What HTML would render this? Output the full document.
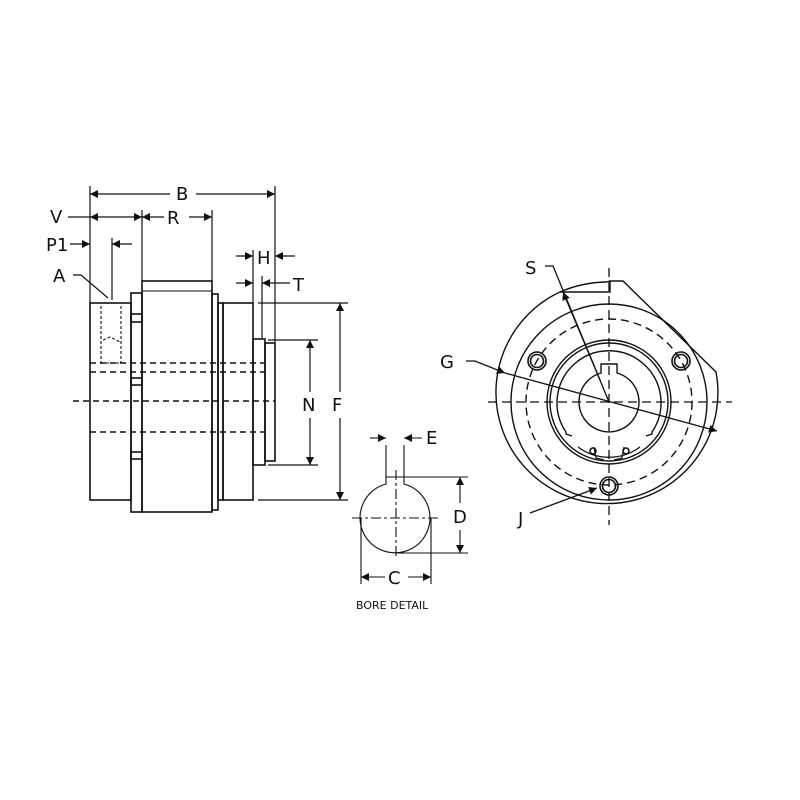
<!DOCTYPE html>
<html><head><style>body{margin:0;background:#fff}svg{display:block}text{font-family:"DejaVu Sans","Liberation Sans",sans-serif;fill:#111}</style></head>
<body>
<svg width="800" height="800" viewBox="0 0 800 800" xmlns="http://www.w3.org/2000/svg">
<defs>
<marker id="a" viewBox="0 0 10 10" refX="10" refY="5" markerWidth="10" markerHeight="8" orient="auto-start-reverse" markerUnits="userSpaceOnUse"><path d="M0,0L10,5L0,10z" fill="#111"/></marker>
</defs>
<g fill="none" stroke="#111" stroke-width="1.6">
<rect x="90" y="303" width="41" height="197"/>
<rect x="131" y="293" width="11" height="219"/>
<rect x="142" y="281" width="70" height="231"/>
<rect x="212" y="294" width="6" height="216"/>
<rect x="218" y="303" width="5" height="197"/>
<rect x="223" y="303" width="30" height="197"/>
<rect x="253" y="339" width="12" height="126"/>
<rect x="265" y="343" width="10" height="118"/>
<rect x="131" y="314" width="11" height="8"/>
<rect x="131" y="378" width="11" height="7"/>
<rect x="131" y="452" width="11" height="7"/>
<line x1="142" y1="291" x2="212" y2="291" stroke-width="1"/>
<g stroke-dasharray="6,4" stroke-width="1.4">
<line x1="90" y1="363" x2="265" y2="363"/>
<line x1="90" y1="372" x2="265" y2="372"/>
<line x1="73" y1="401" x2="275" y2="401"/>
<line x1="90" y1="432" x2="265" y2="432"/>
</g>
<g stroke-dasharray="3,2" stroke-width="1.1">
<line x1="101" y1="306" x2="101" y2="363"/>
<line x1="121" y1="306" x2="121" y2="363"/>
<line x1="101" y1="363" x2="121" y2="363"/>
<path d="M103,340 L110,337 L120,342"/>
</g>
<g stroke-width="1.2">
<line x1="90" y1="186" x2="90" y2="303"/>
<line x1="275" y1="186" x2="275" y2="342"/>
<line x1="142" y1="210" x2="142" y2="281"/>
<line x1="212" y1="210" x2="212" y2="281"/>
<line x1="112" y1="238" x2="112" y2="300"/>
<line x1="253" y1="250" x2="253" y2="303"/>
<line x1="262" y1="276" x2="262" y2="338"/>
<line x1="90" y1="194" x2="170" y2="194" marker-start="url(#a)"/>
<line x1="196" y1="194" x2="275" y2="194" marker-end="url(#a)"/>
<line x1="68" y1="217" x2="90" y2="217"/>
<line x1="90" y1="217" x2="142" y2="217" marker-start="url(#a)" marker-end="url(#a)"/>
<line x1="142" y1="217" x2="164" y2="217" marker-start="url(#a)"/>
<line x1="189" y1="217" x2="212" y2="217" marker-end="url(#a)"/>
<line x1="70" y1="244" x2="90" y2="244" marker-end="url(#a)"/>
<line x1="132" y1="244" x2="112" y2="244" marker-end="url(#a)"/>
<polyline points="73,275 81,275 108,298"/>
<line x1="236" y1="256" x2="253" y2="256" marker-end="url(#a)"/>
<line x1="295" y1="256" x2="275" y2="256" marker-end="url(#a)"/>
<line x1="236" y1="283" x2="253" y2="283" marker-end="url(#a)"/>
<line x1="290" y1="283" x2="262" y2="283" marker-end="url(#a)"/>
<line x1="268" y1="340" x2="318" y2="340"/>
<line x1="268" y1="465" x2="318" y2="465"/>
<line x1="310" y1="392" x2="310" y2="340" marker-end="url(#a)"/>
<line x1="310" y1="418" x2="310" y2="465" marker-end="url(#a)"/>
<line x1="258" y1="303" x2="348" y2="303"/>
<line x1="258" y1="500" x2="348" y2="500"/>
<line x1="340" y1="392" x2="340" y2="303" marker-end="url(#a)"/>
<line x1="340" y1="418" x2="340" y2="500" marker-end="url(#a)"/>
</g>
<path d="M386,477 L386,484 A35,35 0 1 0 404,484 L404,477 Z" stroke-width="1.1"/>
<g stroke-width="1.1">
<line x1="352" y1="518" x2="440" y2="518" stroke-dasharray="10,3,3,3"/>
<line x1="396" y1="470" x2="396" y2="558" stroke-dasharray="10,3,3,3"/>
<line x1="386" y1="445" x2="386" y2="477"/>
<line x1="404" y1="445" x2="404" y2="477"/>
<line x1="370" y1="438" x2="386" y2="438" marker-end="url(#a)"/>
<line x1="422" y1="438" x2="404" y2="438" marker-end="url(#a)"/>
<line x1="404" y1="477" x2="468" y2="477"/>
<line x1="396" y1="553" x2="468" y2="553"/>
<line x1="460" y1="503" x2="460" y2="477" marker-end="url(#a)"/>
<line x1="460" y1="530" x2="460" y2="553" marker-end="url(#a)"/>
<line x1="361" y1="518" x2="361" y2="584"/>
<line x1="431" y1="518" x2="431" y2="584"/>
<line x1="385" y1="577" x2="361" y2="577" marker-end="url(#a)"/>
<line x1="408" y1="577" x2="431" y2="577" marker-end="url(#a)"/>
</g>
<path d="M560,292 A111,111 0 1 0 716,372 L623,281 L610,281 L610,292 Z" stroke-width="1.4"/>
<path d="M560,292 A120,120 0 0 1 606,282 L610,281" stroke-width="1.4"/>
<circle cx="609" cy="402" r="98" stroke-width="1.4"/>
<circle cx="609" cy="402" r="83" stroke-dasharray="8,5" stroke-width="1.4"/>
<circle cx="609" cy="402" r="62" stroke-width="1.4"/>
<circle cx="609" cy="402" r="59" stroke-width="1.4"/>
<path d="M566,432 A52,52 0 1 1 652,432 L652,434 L646,436 M566,432 L566,434 L572,436" stroke-width="1.4"/>
<path d="M578,447 A52,52 0 0 0 640,447 M594,447 L596,458 L604,460 M624,447 L622,458 L614,460" stroke-width="1.2"/>
<circle cx="593" cy="451" r="3"/>
<circle cx="626" cy="451" r="3"/>
<path d="M601,364 L601,373 A30,30 0 1 0 617,373 L617,364 Z" stroke-width="1.4"/>
<circle cx="537" cy="361" r="9"/><circle cx="537" cy="361" r="6.5"/>
<circle cx="681" cy="361" r="9"/><circle cx="681" cy="361" r="6.5"/>
<circle cx="609" cy="486" r="9"/><circle cx="609" cy="486" r="6.5"/>
<g stroke-dasharray="9,5" stroke-width="1.3">
<line x1="488" y1="402" x2="732" y2="402"/>
<line x1="609" y1="268" x2="609" y2="525"/>
</g>
<g stroke-width="1.3">
<polyline points="466,361 475,361 505,373" marker-end="url(#a)"/>
<line x1="505" y1="373" x2="717" y2="431" marker-end="url(#a)"/>
<polyline points="545,266 553,266 609,402"/>
<line x1="600" y1="380" x2="563" y2="292" marker-end="url(#a)"/>
<line x1="530" y1="513" x2="597" y2="488" marker-end="url(#a)"/>
</g>
</g>
<g font-size="18">
<text x="176" y="200">B</text>
<text x="50" y="223">V</text>
<text x="167" y="224">R</text>
<text x="46" y="251">P1</text>
<text x="53" y="282">A</text>
<text x="257" y="264">H</text>
<text x="293" y="291">T</text>
<text x="302" y="411">N</text>
<text x="332" y="411">F</text>
<text x="426" y="444">E</text>
<text x="453" y="523">D</text>
<text x="388" y="584">C</text>
<text x="525" y="274">S</text>
<text x="440" y="368">G</text>
<text x="518" y="525">J</text>
</g>
<text x="356" y="609" font-size="11">BORE DETAIL</text>
</svg>
</body></html>
